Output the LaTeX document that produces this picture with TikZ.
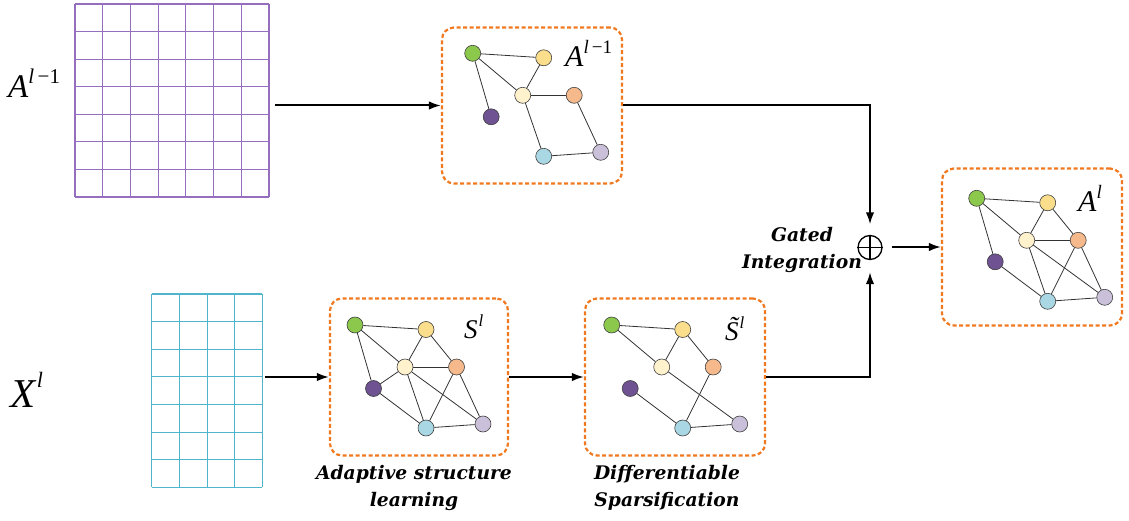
\documentclass[tikz,border=0pt]{standalone}
\usepackage{fontspec}
\setmainfont{Liberation Serif}
\newfontfamily\capfont{DejaVu Serif}
\usetikzlibrary{arrows.meta}
\definecolor{cgreen}{RGB}{140,200,75}
\definecolor{cyellow}{RGB}{250,222,140}
\definecolor{ccream}{RGB}{255,242,205}
\definecolor{corange}{RGB}{245,185,140}
\definecolor{cpurple}{RGB}{110,82,145}
\definecolor{cblue}{RGB}{170,215,228}
\definecolor{clav}{RGB}{202,192,218}
\definecolor{gridpurple}{RGB}{150,110,190}
\definecolor{gridcyan}{RGB}{80,180,205}
\definecolor{boxorange}{RGB}{240,120,30}
\tikzset{
  gnode/.style={circle,draw=black!75,line width=0.6pt,minimum size=16pt,inner sep=0pt},
  gedge/.style={draw=black!80,line width=0.8pt},
  gbox/.style={draw=boxorange,dashed,dash pattern=on 4pt off 2.5pt,line width=2.2pt,rounded corners=12pt,inner sep=0pt},
  conn/.style={draw=black,line width=2pt,-{Latex[length=12pt,width=8.5pt]}},
  capt/.style={font=\capfont\bfseries\itshape\fontsize{18.7}{27}\selectfont,align=center},
  gatet/.style={font=\capfont\bfseries\itshape\fontsize{18.7}{26.5}\selectfont,align=center},
  mlabel/.style={anchor=base west,inner sep=0pt}
}
\newcommand{\placegraph}[3]{%
  \begin{scope}[shift={(#2,#3)}]
    \node[gnode,fill=cgreen]  (#1-g) at (0,0) {};
    \node[gnode,fill=cyellow] (#1-y) at (71,4.5) {};
    \node[gnode,fill=ccream]  (#1-c) at (50,42) {};
    \node[gnode,fill=corange] (#1-o) at (101.5,42) {};
    \node[gnode,fill=cpurple] (#1-p) at (18.5,63.5) {};
    \node[gnode,fill=cblue]   (#1-b) at (71,103) {};
    \node[gnode,fill=clav]    (#1-l) at (128,99) {};
  \end{scope}}
\begin{document}
\begin{tikzpicture}[x=1pt,y=-1pt]
\useasboundingbox (0,0) rectangle (1129,521);
% matrices
\foreach \i in {0,...,7} {
  \draw[gridpurple,line width=1.1pt] (75+\i*27.714,4) -- (75+\i*27.714,197);
  \draw[gridpurple,line width=1.1pt] (75,4+\i*27.571) -- (269,4+\i*27.571);
}
\node[inner sep=0pt,minimum width=194pt,minimum height=193pt] (Amat) at (172,100.5) {};
\foreach \i in {0,...,4} {
  \draw[gridcyan,line width=1.1pt] (151.9+\i*27.6,294) -- (151.9+\i*27.6,487.3);
}
\foreach \i in {0,...,7} {
  \draw[gridcyan,line width=1.1pt] (151.9,294+\i*27.614) -- (262.3,294+\i*27.614);
}
\node[inner sep=0pt,minimum width=110.4pt,minimum height=193.3pt] (Xmat) at (207.1,390.65) {};
% matrix labels
\node[mlabel] (Alab) at (8,98) {{\fontsize{33}{33}\selectfont\itshape A}\raisebox{14pt}{\fontsize{21}{21}\selectfont\textit{l}\,−1}};
\node[mlabel] (Xlab) at (10,407) {{\fontsize{41}{41}\selectfont\itshape X}\,\raisebox{20pt}{\fontsize{22}{22}\selectfont\textit{l}}};
% boxes
\node[gbox,minimum width=180pt,minimum height=156pt] (boxT) at (532,105.5) {};
\node[gbox,minimum width=180pt,minimum height=157pt] (boxA) at (1032,247) {};
\node[gbox,minimum width=178pt,minimum height=157pt] (boxS) at (419,377) {};
\node[gbox,minimum width=180pt,minimum height=157pt] (boxU) at (675,377) {};
% graphs
\placegraph{t}{472.7}{53.3}
\placegraph{a}{976.7}{198.3}
\placegraph{s}{355}{325}
\placegraph{u}{611.7}{325}
% top graph edges
\foreach \u/\v in {g/y,g/c,g/p,y/c,c/o,c/b,o/l,b/l} \draw[gedge] (t-\u) -- (t-\v);
% final graph edges
\foreach \u/\v in {g/y,g/c,g/p,y/c,y/o,c/o,c/b,c/l,o/b,o/l,p/b,b/l} \draw[gedge] (a-\u) -- (a-\v);
% S graph edges
\foreach \u/\v in {g/y,g/c,g/p,y/c,y/o,c/o,c/p,c/b,c/l,o/b,o/l,p/b,b/l} \draw[gedge] (s-\u) -- (s-\v);
% S tilde graph edges
\foreach \u/\v in {g/y,g/c,y/c,y/o,c/l,o/b,p/b,b/l} \draw[gedge] (u-\u) -- (u-\v);
% box labels
\node[mlabel] (tlab) at (565,67) {{\fontsize{30}{30}\selectfont\itshape A}\raisebox{13pt}{\fontsize{19}{19}\selectfont\textit{l}\,−1}};
\node[mlabel] (alab) at (1078,212) {{\fontsize{30}{30}\selectfont\itshape A}\raisebox{13pt}{\fontsize{19}{19}\selectfont\textit{l}}};
\node[mlabel] (slab) at (464,338) {{\fontsize{27}{27}\selectfont\itshape S}\kern1pt\raisebox{12pt}{\fontsize{17}{17}\selectfont\textit{l}}};
\node[mlabel] (ulab) at (725,340) {{\fontsize{27}{27}\selectfont\itshape\~{S}}\kern1pt\raisebox{12pt}{\fontsize{17}{17}\selectfont\textit{l}}};
% oplus
\node[circle,draw=black,line width=1.3pt,minimum size=24pt,inner sep=0pt] (op) at (870,247.5) {};
\draw[line width=1.3pt] (op.north) -- (op.south) (op.west) -- (op.east);
% connectors
\draw[conn,shorten <=6pt] (Amat.east |- boxT.west) -- (boxT.west);
\draw[conn,shorten >=10.5pt] (boxT.east) -| (op.north);
\draw[conn,shorten <=2pt] (Xmat.east |- boxS.west) -- (boxS.west);
\draw[conn] (boxS.east) -- (boxU.west);
\draw[conn,shorten >=12pt] (boxU.east) -| (op.south);
\draw[conn,shorten <=9pt] (op.east |- boxA.west) -- (boxA.west);
% captions
\node[gatet] (gate) at (802,250) {Gated\\Integration};
\node[capt] (c1) at (414,488) {Adaptive structure\\learning};
\node[capt] (c2) at (667,488) {Differentiable\\Sparsification};
\end{tikzpicture}
\end{document}
